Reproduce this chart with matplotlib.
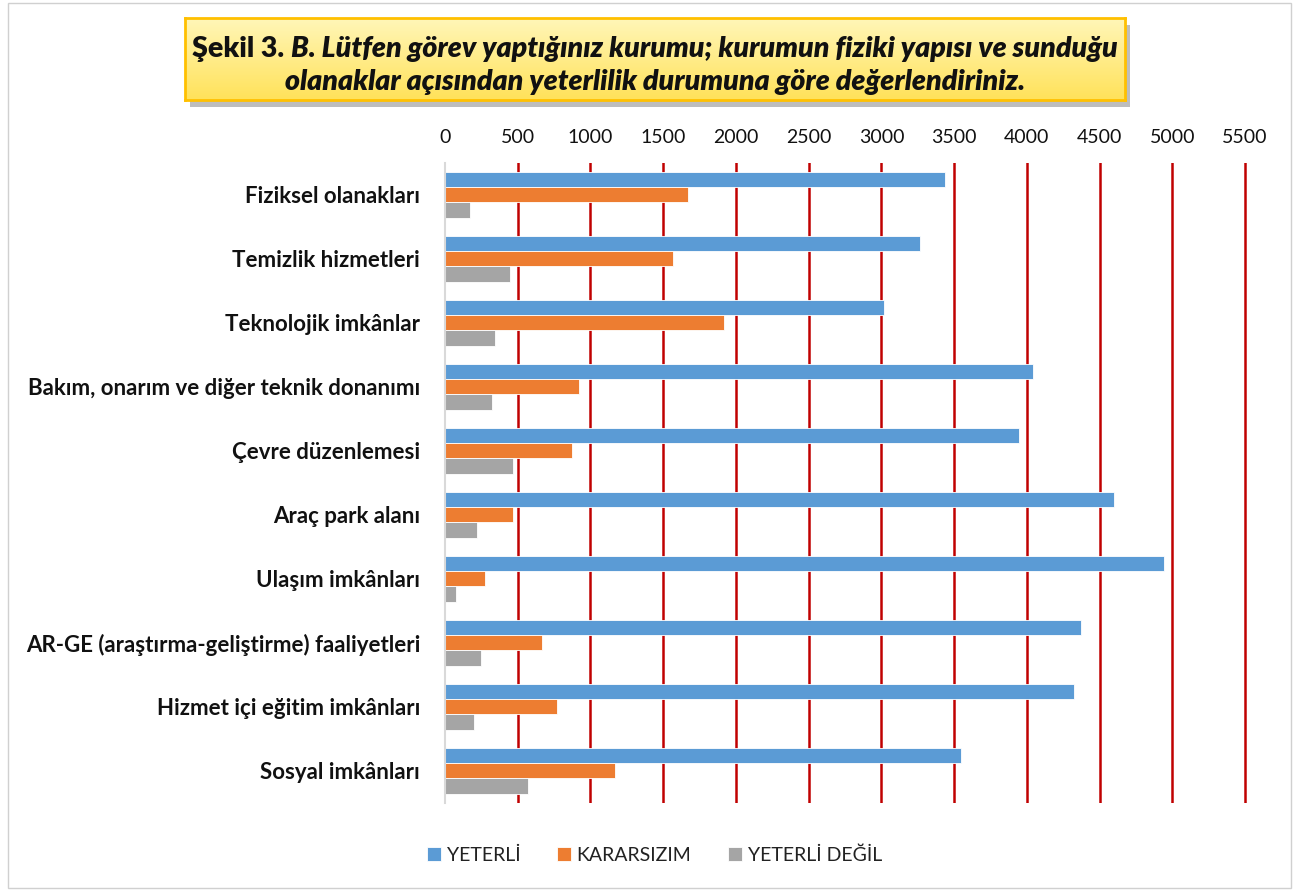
import numpy as np
import matplotlib
matplotlib.use("Agg")
import matplotlib.pyplot as plt
from matplotlib.patches import Rectangle
from matplotlib.colors import LinearSegmentedColormap

plt.rcParams['font.family'] = ['Lato', 'DejaVu Sans']

categories = ["Fiziksel olanakları", "Temizlik hizmetleri", "Teknolojik imkânlar",
              "Bakım, onarım ve diğer teknik donanımı", "Çevre düzenlemesi",
              "Araç park alanı", "Ulaşım imkânları",
              "AR-GE (araştırma-geliştirme) faaliyetleri",
              "Hizmet içi eğitim imkânları", "Sosyal imkânları"]
yeterli = [3440, 3265, 3020, 4045, 3945, 4600, 4945, 4370, 4325, 3550]
kararsizim = [1668, 1570, 1915, 920, 872, 470, 272, 668, 768, 1168]
yeterli_degil = [172, 447, 345, 321, 470, 219, 74, 249, 196, 573]
series_names = ["YETERLİ", "KARARSIZIM", "YETERLİ DEĞİL"]
colors = ["#5B9BD5", "#ED7D31", "#A5A5A5"]
xticks = list(range(0, 5501, 500))

fig = plt.figure(figsize=(12.99, 8.91), dpi=100)

# outer border
fig.patches.append(Rectangle((0.006, 0.003), 0.988, 0.994, transform=fig.transFigure,
                             fill=False, edgecolor="#D0D0D0", linewidth=1))

ax = fig.add_axes([0.3426, 0.0988, 0.6170, 0.7183])
y = np.arange(len(categories))
h = 0.235
for i, vals in enumerate([yeterli, kararsizim, yeterli_degil]):
    ax.barh(y + (i - 1) * h, vals, height=h, color=colors[i], label=series_names[i],
            edgecolor="white", linewidth=0.6, zorder=3)

ax.set_ylim(len(categories) - 0.5, -0.5)
ax.set_xlim(0, 5510)
ax.set_xticks(xticks)
ax.set_xticklabels([str(t) for t in xticks], fontsize=14, color="#111111")
ax.xaxis.tick_top()
ax.tick_params(axis="x", length=0, pad=12)
ax.set_yticks(y)
ax.set_yticklabels(categories, fontsize=16, fontweight="bold", color="#111111")
ax.tick_params(axis="y", length=0, pad=18)
ax.grid(axis="x", color="#C00000", linewidth=1.8, zorder=1)
ax.get_xgridlines()[0].set_visible(False)
for s in ["top", "right", "bottom"]:
    ax.spines[s].set_visible(False)
ax.spines["left"].set_color("#D9D9D9")
ax.spines["left"].set_linewidth(1.5)
ax.spines["left"].set_zorder(4)

leg = fig.legend(loc="center", bbox_to_anchor=(0.504, 0.04), ncol=3, frameon=False,
                 fontsize=14, handlelength=0.7, handleheight=0.7, handletextpad=0.3,
                 columnspacing=1.9)
for t in leg.get_texts():
    t.set_color("#222222")

# title box with shadow and gradient
bx, by, bw, bh = 185 / 1299, 1 - 100 / 891, 940 / 1299, 82 / 891
shadow = fig.add_axes([bx + 5 / 1299, by - 7 / 891, bw, bh])
shadow.set_facecolor("#BDBDBD")
shadow.set_xticks([])
shadow.set_yticks([])
for s in shadow.spines.values():
    s.set_visible(False)
shadow.set_zorder(1)

tax = fig.add_axes([bx, by, bw, bh])
tax.set_zorder(2)
grad = np.linspace(0, 1, 100).reshape(-1, 1)
cmap = LinearSegmentedColormap.from_list("yel", ["#FFF6B8", "#FFE25A"])
tax.imshow(grad, aspect="auto", cmap=cmap, extent=[0, 1, 0, 1])
tax.set_xlim(0, 1)
tax.set_ylim(0, 1)
tax.set_xticks([])
tax.set_yticks([])
for s in tax.spines.values():
    s.set_color("#FFC000")
    s.set_linewidth(2)

fs = 20.5
r = fig.canvas.get_renderer()
part1 = fig.text(0, 0, "Şekil 3. ", fontsize=fs, fontweight="heavy", color="#111111", zorder=5)
part2 = fig.text(0, 0, "B. Lütfen görev yaptığınız kurumu; kurumun fiziki yapısı ve sunduğu",
                 fontsize=fs, fontweight="heavy", style="italic", color="#111111", zorder=5)
w1 = part1.get_window_extent(r).width
w2 = part2.get_window_extent(r).width
total = w1 + w2
cx = 655
x0 = cx - total / 2
y1 = 1 - 57 / 891
part1.set_position((x0 / 1299, y1))
part2.set_position(((x0 + w1) / 1299, y1))
fig.text(cx / 1299, 1 - 90 / 891,
         "olanaklar açısından yeterlilik durumuna göre değerlendiriniz.",
         fontsize=fs, fontweight="heavy", style="italic", color="#111111", ha="center",
         zorder=5)

fig.savefig("out.png", dpi=100)
